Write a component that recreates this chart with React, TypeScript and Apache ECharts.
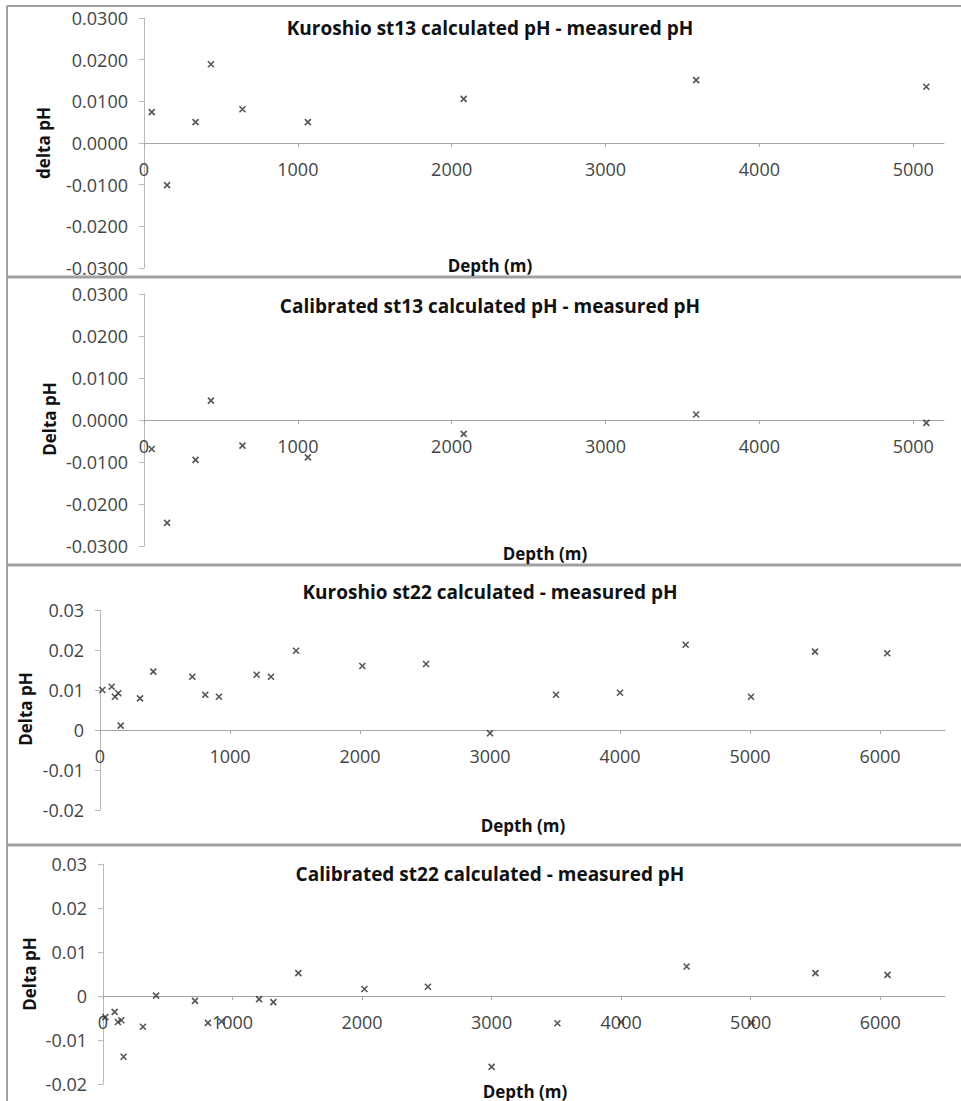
import React, { useEffect, useRef } from "react";
import * as echarts from "echarts";

// ---- data ----
const st13Depth = [50, 150, 335, 435, 640, 1065, 2078, 3589, 5085];
const st13Kuroshio = [0.0074, -0.0101, 0.005, 0.0189, 0.0081, 0.005, 0.0106, 0.0151, 0.0135];
const st13Calibrated = [-0.0069, -0.0245, -0.0095, 0.0046, -0.0061, -0.0089, -0.0033, 0.0013, -0.0007];

const st22Depth = [18, 90, 115, 141, 159, 308, 410, 710, 810, 915, 1205, 1315, 1508, 2018, 2508, 3000, 3508, 4000, 4505, 5008, 5500, 6056];
const st22Kuroshio = [0.01, 0.0108, 0.0083, 0.0092, 0.0011, 0.0079, 0.0146, 0.0133, 0.0088, 0.0083, 0.0138, 0.0133, 0.0198, 0.016, 0.0165, -0.0008, 0.0088, 0.0093, 0.0213, 0.0083, 0.0196, 0.0192];
const st22Calibrated = [-0.0048, -0.0036, -0.0059, -0.0055, -0.0138, -0.007, 0.0001, -0.0011, -0.0061, -0.0058, -0.0007, -0.0014, 0.0052, 0.0016, 0.0021, -0.0161, -0.0062, -0.0059, 0.0067, -0.0061, 0.0052, 0.0048];

const st13XTicks = [0, 1000, 2000, 3000, 4000, 5000];
const st22XTicks = [0, 1000, 2000, 3000, 4000, 5000, 6000];
const st13YTicks = [-0.03, -0.02, -0.01, 0, 0.01, 0.02, 0.03];
const st22YTicks = [-0.02, -0.01, 0, 0.01, 0.02, 0.03];

const titles = [
  "Kuroshio st13 calculated pH - measured pH",
  "Calibrated st13 calculated pH - measured pH",
  "Kuroshio st22 calculated - measured pH",
  "Calibrated st22 calculated - measured pH",
];
const yNames = ["delta pH", "Delta pH", "Delta pH", "Delta pH"];
const xName = "Depth (m)";

const FONT = '"Open Sans", "Liberation Sans", sans-serif';

const panels = [
  { depth: st13Depth, vals: st13Kuroshio, xt: st13XTicks, yt: st13YTicks, xMax: 5200, yMin: -0.03, yMax: 0.03, dec: 4,
    grid: { left: 144, top: 18, width: 800, height: 250 }, titleY: 28, yNameX: 43, yNameY: 143, xNameX: 490, xNameY: 265 },
  { depth: st13Depth, vals: st13Calibrated, xt: st13XTicks, yt: st13YTicks, xMax: 5200, yMin: -0.03, yMax: 0.03, dec: 4,
    grid: { left: 144, top: 294, width: 800, height: 252 }, titleY: 306, yNameX: 49, yNameY: 419, xNameX: 545, xNameY: 553 },
  { depth: st22Depth, vals: st22Kuroshio, xt: st22XTicks, yt: st22YTicks, xMax: 6500, yMin: -0.02, yMax: 0.03, dec: 2,
    grid: { left: 100, top: 610, width: 845, height: 200 }, titleY: 592, yNameX: 25, yNameY: 709, xNameX: 523, xNameY: 825 },
  { depth: st22Depth, vals: st22Calibrated, xt: st22XTicks, yt: st22YTicks, xMax: 6500, yMin: -0.02, yMax: 0.03, dec: 2,
    grid: { left: 103, top: 864, width: 842, height: 220 }, titleY: 874, yNameX: 29, yNameY: 974, xNameX: 525, xNameY: 1091 },
];

function fmtY(v: number, dec: number) {
  const r = Math.round(v * Math.pow(10, dec)) / Math.pow(10, dec);
  if (dec === 4) return (r === 0 ? 0 : r).toFixed(4);
  return String(r === 0 ? 0 : r);
}

export default function App() {
  const ref = useRef<HTMLDivElement>(null);
  useEffect(() => {
    document.body.style.margin = "0";
    const chart = echarts.init(ref.current!, undefined, { renderer: "svg" });
    const axisColor = "#a6a6a6";
    const labelColor = "#444444";
    const option: any = {
      animation: false,
      backgroundColor: "#ffffff",
      grid: panels.map((p) => ({ ...p.grid, containLabel: false })),
      xAxis: panels.map((p, i) => ({
        type: "value",
        gridIndex: i,
        min: 0,
        max: p.xMax,
        interval: 1000,
        // x axis crosses the y axis at zero (Excel style)
        offset: -p.grid.height * ((0 - p.yMin) / (p.yMax - p.yMin)),
        splitLine: { show: false },
        axisLine: { onZero: false, lineStyle: { color: axisColor, width: 1 } },
        axisTick: { show: true, length: 4, lineStyle: { color: axisColor }, customValues: p.xt },
        axisLabel: {
          customValues: p.xt,
          margin: 17,
          color: labelColor,
          fontFamily: FONT,
          fontSize: 18,
          formatter: (v: number) => String(v),
        },
      })),
      yAxis: panels.map((p, i) => ({
        type: "value",
        gridIndex: i,
        min: p.yMin,
        max: p.yMax,
        interval: 0.01,
        splitLine: { show: false },
        axisLine: { show: true, onZero: false, lineStyle: { color: "#b8b8b8", width: 1 } },
        axisTick: { show: true, length: 5, lineStyle: { color: "#b8b8b8" }, customValues: p.yt },
        axisLabel: {
          customValues: p.yt,
          margin: 16,
          color: labelColor,
          fontFamily: FONT,
          fontSize: 18,
          formatter: (v: number) => fmtY(v, p.dec),
        },
      })),
      series: panels.map((p, i) => ({
        type: "scatter",
        xAxisIndex: i,
        yAxisIndex: i,
        symbol: "path://M0,0L10,10M0,10L10,0",
        symbolSize: 6,
        silent: true,
        z: 5,
        itemStyle: { color: "transparent", borderColor: "#2a2a2a", borderWidth: 1.6 },
        data: p.depth.map((d, k) => [d, p.vals[k]]),
      })),
      graphic: [
        // panel frames
        { type: "line", shape: { x1: 7, y1: 6, x2: 961, y2: 6 }, style: { stroke: "#a0a0a0", lineWidth: 2 } },
        { type: "line", shape: { x1: 7, y1: 6, x2: 7, y2: 1101 }, style: { stroke: "#a0a0a0", lineWidth: 2 } },
        { type: "line", shape: { x1: 7, y1: 277, x2: 961, y2: 277 }, style: { stroke: "#a0a0a0", lineWidth: 3 } },
        { type: "line", shape: { x1: 7, y1: 565, x2: 961, y2: 565 }, style: { stroke: "#a0a0a0", lineWidth: 3 } },
        { type: "line", shape: { x1: 7, y1: 845, x2: 961, y2: 845 }, style: { stroke: "#a0a0a0", lineWidth: 3 } },
        ...panels.flatMap((p, i) => [
          {
            type: "text",
            x: 490,
            y: p.titleY,
            style: { text: titles[i], fontFamily: FONT, fontWeight: "bold", fontSize: 19, fill: "#111", align: "center", verticalAlign: "middle" },
          },
          {
            type: "text",
            x: p.yNameX,
            y: p.yNameY,
            rotation: Math.PI / 2,
            style: { text: yNames[i], fontFamily: FONT, fontWeight: "bold", fontSize: 17, fill: "#111", align: "center", verticalAlign: "middle" },
          },
          {
            type: "text",
            x: p.xNameX,
            y: p.xNameY,
            style: { text: xName, fontFamily: FONT, fontWeight: "bold", fontSize: 17, fill: "#111", align: "center", verticalAlign: "middle" },
          },
        ]),
      ],
    };
    chart.setOption(option);
    return () => chart.dispose();
  }, []);
  return <div ref={ref} style={{ width: 961, height: 1101 }} />;
}
